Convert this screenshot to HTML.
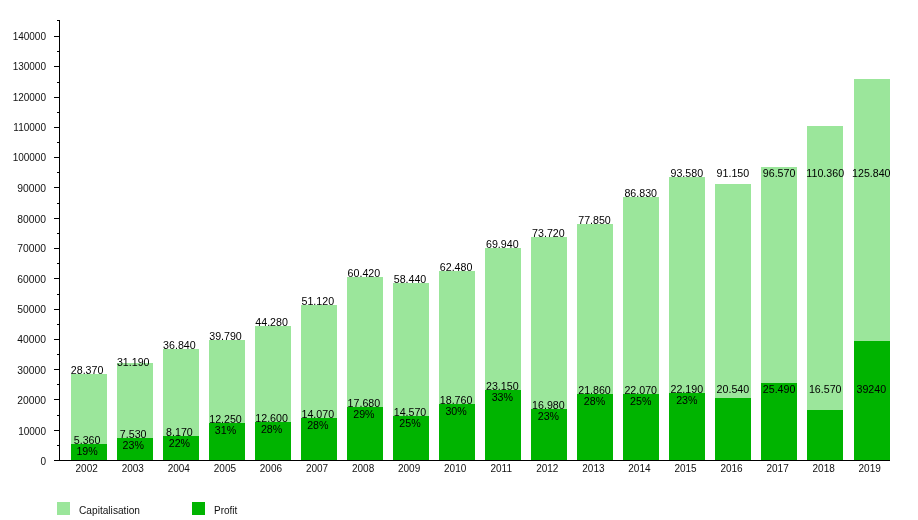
<!DOCTYPE html>
<html><head><meta charset="utf-8"><style>
html,body{margin:0;padding:0;background:#fff;}
svg{display:block;will-change:transform;}
text{font-family:"Liberation Sans",Arial,Helvetica,sans-serif;fill:#000;}
.ax{font-size:10px;fill:#111;}
.bl{font-size:10.67px;}
</style></head><body>
<svg width="918" height="520" viewBox="0 0 918 520">
<rect x="0" y="0" width="918" height="520" fill="#fff"/>
<g shape-rendering="crispEdges"><rect x="71" y="374.00" width="36" height="86.00" fill="#9be69b"/><rect x="71" y="444.00" width="36" height="16.00" fill="#00b400"/><rect x="117" y="363.00" width="36" height="97.00" fill="#9be69b"/><rect x="117" y="438.00" width="36" height="22.00" fill="#00b400"/><rect x="163" y="349.00" width="36" height="111.00" fill="#9be69b"/><rect x="163" y="436.00" width="36" height="24.00" fill="#00b400"/><rect x="209" y="340.00" width="36" height="120.00" fill="#9be69b"/><rect x="209" y="423.00" width="36" height="37.00" fill="#00b400"/><rect x="255" y="326.00" width="36" height="134.00" fill="#9be69b"/><rect x="255" y="422.00" width="36" height="38.00" fill="#00b400"/><rect x="301" y="305.00" width="36" height="155.00" fill="#9be69b"/><rect x="301" y="418.00" width="36" height="42.00" fill="#00b400"/><rect x="347" y="277.00" width="36" height="183.00" fill="#9be69b"/><rect x="347" y="407.00" width="36" height="53.00" fill="#00b400"/><rect x="393" y="283.00" width="36" height="177.00" fill="#9be69b"/><rect x="393" y="416.00" width="36" height="44.00" fill="#00b400"/><rect x="439" y="271.00" width="36" height="189.00" fill="#9be69b"/><rect x="439" y="404.00" width="36" height="56.00" fill="#00b400"/><rect x="485" y="248.00" width="36" height="212.00" fill="#9be69b"/><rect x="485" y="390.00" width="36" height="70.00" fill="#00b400"/><rect x="531" y="237.00" width="36" height="223.00" fill="#9be69b"/><rect x="531" y="409.00" width="36" height="51.00" fill="#00b400"/><rect x="577" y="224.00" width="36" height="236.00" fill="#9be69b"/><rect x="577" y="394.00" width="36" height="66.00" fill="#00b400"/><rect x="623" y="197.00" width="36" height="263.00" fill="#9be69b"/><rect x="623" y="394.00" width="36" height="66.00" fill="#00b400"/><rect x="669" y="177.00" width="36" height="283.00" fill="#9be69b"/><rect x="669" y="393.00" width="36" height="67.00" fill="#00b400"/><rect x="715" y="184.00" width="36" height="276.00" fill="#9be69b"/><rect x="715" y="398.00" width="36" height="62.00" fill="#00b400"/><rect x="761" y="167.00" width="36" height="293.00" fill="#9be69b"/><rect x="761" y="383.00" width="36" height="77.00" fill="#00b400"/><rect x="807" y="126.00" width="36" height="334.00" fill="#9be69b"/><rect x="807" y="410.00" width="36" height="50.00" fill="#00b400"/><rect x="854" y="79.00" width="36" height="381.00" fill="#9be69b"/><rect x="854" y="341.00" width="36" height="119.00" fill="#00b400"/></g>
<g shape-rendering="crispEdges"><rect x="59" y="20" width="1" height="441" fill="#000"/><rect x="54" y="460" width="836" height="1" fill="#000"/><rect x="54" y="460" width="5" height="1" fill="#000"/><rect x="57" y="445" width="2" height="1" fill="#000"/><rect x="54" y="430" width="5" height="1" fill="#000"/><rect x="57" y="415" width="2" height="1" fill="#000"/><rect x="54" y="399" width="5" height="1" fill="#000"/><rect x="57" y="384" width="2" height="1" fill="#000"/><rect x="54" y="369" width="5" height="1" fill="#000"/><rect x="57" y="354" width="2" height="1" fill="#000"/><rect x="54" y="339" width="5" height="1" fill="#000"/><rect x="57" y="324" width="2" height="1" fill="#000"/><rect x="54" y="309" width="5" height="1" fill="#000"/><rect x="57" y="294" width="2" height="1" fill="#000"/><rect x="54" y="278" width="5" height="1" fill="#000"/><rect x="57" y="263" width="2" height="1" fill="#000"/><rect x="54" y="248" width="5" height="1" fill="#000"/><rect x="57" y="233" width="2" height="1" fill="#000"/><rect x="54" y="218" width="5" height="1" fill="#000"/><rect x="57" y="203" width="2" height="1" fill="#000"/><rect x="54" y="187" width="5" height="1" fill="#000"/><rect x="57" y="172" width="2" height="1" fill="#000"/><rect x="54" y="157" width="5" height="1" fill="#000"/><rect x="57" y="142" width="2" height="1" fill="#000"/><rect x="54" y="127" width="5" height="1" fill="#000"/><rect x="57" y="112" width="2" height="1" fill="#000"/><rect x="54" y="97" width="5" height="1" fill="#000"/><rect x="57" y="82" width="2" height="1" fill="#000"/><rect x="54" y="66" width="5" height="1" fill="#000"/><rect x="57" y="51" width="2" height="1" fill="#000"/><rect x="54" y="36" width="5" height="1" fill="#000"/><rect x="57" y="20" width="2" height="1" fill="#000"/></g>
<text class="ax" x="46" y="465.2" text-anchor="end">0</text><text class="ax" x="46" y="435.2" text-anchor="end">10000</text><text class="ax" x="46" y="404.2" text-anchor="end" textLength="28.8" lengthAdjust="spacingAndGlyphs">20000</text><text class="ax" x="46" y="374.2" text-anchor="end" textLength="28.8" lengthAdjust="spacingAndGlyphs">30000</text><text class="ax" x="46" y="343.2" text-anchor="end" textLength="28.8" lengthAdjust="spacingAndGlyphs">40000</text><text class="ax" x="46" y="313.2" text-anchor="end" textLength="28.8" lengthAdjust="spacingAndGlyphs">50000</text><text class="ax" x="46" y="283.2" text-anchor="end" textLength="28.8" lengthAdjust="spacingAndGlyphs">60000</text><text class="ax" x="46" y="252.2" text-anchor="end" textLength="28.8" lengthAdjust="spacingAndGlyphs">70000</text><text class="ax" x="46" y="223.2" text-anchor="end" textLength="28.8" lengthAdjust="spacingAndGlyphs">80000</text><text class="ax" x="46" y="192.2" text-anchor="end" textLength="28.8" lengthAdjust="spacingAndGlyphs">90000</text><text class="ax" x="46" y="161.2" text-anchor="end">100000</text><text class="ax" x="46" y="131.2" text-anchor="end">110000</text><text class="ax" x="46" y="101.2" text-anchor="end">120000</text><text class="ax" x="46" y="70.2" text-anchor="end">130000</text><text class="ax" x="46" y="40.2" text-anchor="end">140000</text>
<text class="ax" x="86.7" y="472" text-anchor="middle">2002</text><text class="ax" x="132.8" y="472" text-anchor="middle">2003</text><text class="ax" x="178.8" y="472" text-anchor="middle">2004</text><text class="ax" x="224.9" y="472" text-anchor="middle">2005</text><text class="ax" x="270.9" y="472" text-anchor="middle">2006</text><text class="ax" x="317.0" y="472" text-anchor="middle">2007</text><text class="ax" x="363.1" y="472" text-anchor="middle">2008</text><text class="ax" x="409.1" y="472" text-anchor="middle">2009</text><text class="ax" x="455.2" y="472" text-anchor="middle">2010</text><text class="ax" x="501.2" y="472" text-anchor="middle">2011</text><text class="ax" x="547.3" y="472" text-anchor="middle">2012</text><text class="ax" x="593.4" y="472" text-anchor="middle">2013</text><text class="ax" x="639.4" y="472" text-anchor="middle">2014</text><text class="ax" x="685.5" y="472" text-anchor="middle">2015</text><text class="ax" x="731.5" y="472" text-anchor="middle">2016</text><text class="ax" x="777.6" y="472" text-anchor="middle">2017</text><text class="ax" x="823.7" y="472" text-anchor="middle">2018</text><text class="ax" x="869.7" y="472" text-anchor="middle">2019</text>
<text class="bl" x="87.1" y="374.0" text-anchor="middle">28.370</text><text class="bl" x="87.1" y="444.0" text-anchor="middle">5.360</text><text class="bl" x="87.1" y="455.0" text-anchor="middle">19%</text><text class="bl" x="133.2" y="365.5" text-anchor="middle">31.190</text><text class="bl" x="133.2" y="438.0" text-anchor="middle">7.530</text><text class="bl" x="133.2" y="449.0" text-anchor="middle">23%</text><text class="bl" x="179.4" y="349.0" text-anchor="middle">36.840</text><text class="bl" x="179.4" y="436.0" text-anchor="middle">8.170</text><text class="bl" x="179.4" y="447.0" text-anchor="middle">22%</text><text class="bl" x="225.5" y="340.0" text-anchor="middle">39.790</text><text class="bl" x="225.5" y="423.0" text-anchor="middle">12.250</text><text class="bl" x="225.5" y="434.0" text-anchor="middle">31%</text><text class="bl" x="271.6" y="326.0" text-anchor="middle">44.280</text><text class="bl" x="271.6" y="422.0" text-anchor="middle">12.600</text><text class="bl" x="271.6" y="433.0" text-anchor="middle">28%</text><text class="bl" x="317.8" y="305.0" text-anchor="middle">51.120</text><text class="bl" x="317.8" y="418.0" text-anchor="middle">14.070</text><text class="bl" x="317.8" y="429.0" text-anchor="middle">28%</text><text class="bl" x="363.9" y="277.0" text-anchor="middle">60.420</text><text class="bl" x="363.9" y="407.0" text-anchor="middle">17.680</text><text class="bl" x="363.9" y="418.0" text-anchor="middle">29%</text><text class="bl" x="410.0" y="283.0" text-anchor="middle">58.440</text><text class="bl" x="410.0" y="416.0" text-anchor="middle">14.570</text><text class="bl" x="410.0" y="427.0" text-anchor="middle">25%</text><text class="bl" x="456.1" y="271.0" text-anchor="middle">62.480</text><text class="bl" x="456.1" y="404.0" text-anchor="middle">18.760</text><text class="bl" x="456.1" y="415.0" text-anchor="middle">30%</text><text class="bl" x="502.3" y="248.0" text-anchor="middle">69.940</text><text class="bl" x="502.3" y="390.0" text-anchor="middle">23.150</text><text class="bl" x="502.3" y="401.0" text-anchor="middle">33%</text><text class="bl" x="548.4" y="237.0" text-anchor="middle">73.720</text><text class="bl" x="548.4" y="409.0" text-anchor="middle">16.980</text><text class="bl" x="548.4" y="420.0" text-anchor="middle">23%</text><text class="bl" x="594.5" y="224.0" text-anchor="middle">77.850</text><text class="bl" x="594.5" y="394.0" text-anchor="middle">21.860</text><text class="bl" x="594.5" y="405.0" text-anchor="middle">28%</text><text class="bl" x="640.7" y="197.0" text-anchor="middle">86.830</text><text class="bl" x="640.7" y="394.0" text-anchor="middle">22.070</text><text class="bl" x="640.7" y="405.0" text-anchor="middle">25%</text><text class="bl" x="686.8" y="177.0" text-anchor="middle">93.580</text><text class="bl" x="686.8" y="393.0" text-anchor="middle">22.190</text><text class="bl" x="686.8" y="404.0" text-anchor="middle">23%</text><text class="bl" x="732.9" y="177.0" text-anchor="middle">91.150</text><text class="bl" x="732.9" y="393.0" text-anchor="middle">20.540</text><text class="bl" x="779.1" y="177.0" text-anchor="middle">96.570</text><text class="bl" x="779.1" y="393.0" text-anchor="middle">25.490</text><text class="bl" x="825.2" y="177.0" text-anchor="middle">110.360</text><text class="bl" x="825.2" y="393.0" text-anchor="middle">16.570</text><text class="bl" x="871.3" y="177.0" text-anchor="middle">125.840</text><text class="bl" x="871.3" y="393.0" text-anchor="middle">39240</text>
<rect x="57" y="502" width="13" height="13" fill="#9be69b" shape-rendering="crispEdges"/>
<rect x="192" y="502" width="13" height="13" fill="#00b400" shape-rendering="crispEdges"/>
<text class="ax" x="79" y="514" textLength="61" lengthAdjust="spacingAndGlyphs">Capitalisation</text>
<text class="ax" x="214" y="514">Profit</text>
</svg></body></html>
